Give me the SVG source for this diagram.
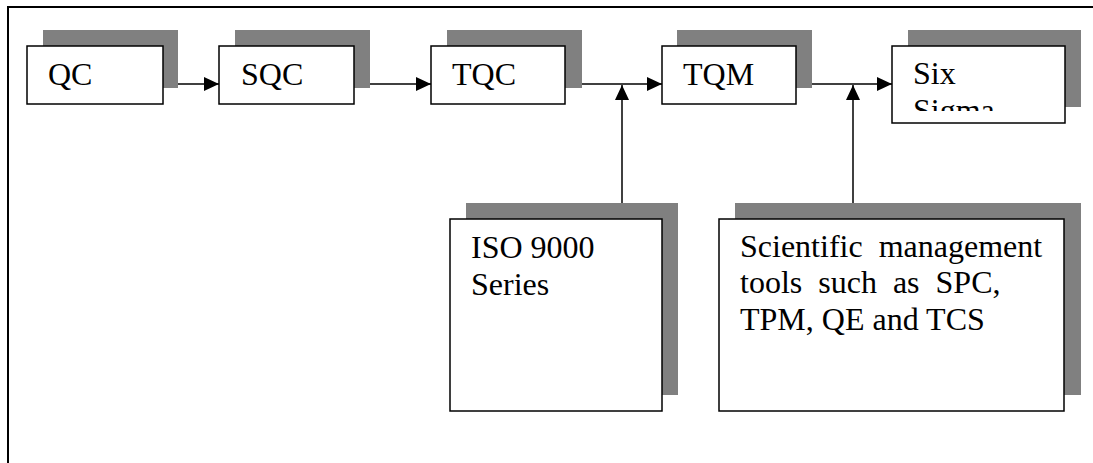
<svg xmlns="http://www.w3.org/2000/svg" width="1093" height="463" viewBox="0 0 1093 463">
  <style>
    .shadow { fill: #808080; }
    .box { fill: #ffffff; stroke: #000000; stroke-width: 1.5; }
    .label { font-family: "Liberation Serif", "Times New Roman", serif; font-size: 32px; fill: #000000; }
    .wire { fill: none; stroke: #000000; stroke-width: 1.5; }
    .frame { fill: none; stroke: #000000; stroke-width: 2; }
  </style>
  <defs>
    <marker id="arrow" markerUnits="userSpaceOnUse" markerWidth="16" markerHeight="14" refX="15" refY="7" orient="auto">
      <path d="M0,0 L15,7 L0,14 z" fill="#000000"/>
    </marker>
    <clipPath id="clip-six">
      <rect x="892" y="46" width="173" height="65"/>
    </clipPath>
  </defs>
  <rect width="1093" height="463" fill="#ffffff"/>

  <!-- outer frame: top and left edges -->
  <path class="frame" d="M8,463 L8,7 L1093,7"/>

  <!-- connectors -->
  <g id="connectors">
    <line class="wire" x1="163" y1="84" x2="219" y2="84" marker-end="url(#arrow)"/>
    <line class="wire" x1="354" y1="84" x2="431" y2="84" marker-end="url(#arrow)"/>
    <line class="wire" x1="565" y1="84" x2="662" y2="84" marker-end="url(#arrow)"/>
    <line class="wire" x1="796" y1="84" x2="892" y2="84" marker-end="url(#arrow)"/>
    <line class="wire" x1="622" y1="219" x2="622" y2="85" marker-end="url(#arrow)"/>
    <line class="wire" x1="853" y1="219" x2="853" y2="85" marker-end="url(#arrow)"/>
  </g>

  <g id="node-qc">
    <rect class="shadow" x="43" y="30" width="135" height="58"/>
    <rect class="box" x="27" y="46" width="136" height="58"/>
    <text class="label" x="48" y="85">QC</text>
  </g>

  <g id="node-sqc">
    <rect class="shadow" x="235" y="30" width="135" height="58"/>
    <rect class="box" x="219" y="46" width="135" height="58"/>
    <text class="label" x="241" y="85">SQC</text>
  </g>

  <g id="node-tqc">
    <rect class="shadow" x="447" y="30" width="135" height="58"/>
    <rect class="box" x="431" y="46" width="134" height="58"/>
    <text class="label" x="452" y="85">TQC</text>
  </g>

  <g id="node-tqm">
    <rect class="shadow" x="677" y="30" width="135" height="58"/>
    <rect class="box" x="662" y="46" width="134" height="58"/>
    <text class="label" x="683" y="85">TQM</text>
  </g>

  <g id="node-six-sigma">
    <rect class="shadow" x="908" y="30" width="173" height="77"/>
    <rect class="box" x="892" y="46" width="173" height="77"/>
    <g clip-path="url(#clip-six)">
      <text class="label" x="913" y="84">Six</text>
      <text class="label" x="913" y="121">Sigma</text>
    </g>
  </g>

  <g id="node-iso">
    <rect class="shadow" x="466" y="203" width="212" height="192"/>
    <rect class="box" x="450" y="219" width="212" height="192"/>
    <text class="label" x="471" y="258">ISO 9000</text>
    <text class="label" x="471" y="295">Series</text>
  </g>

  <g id="node-tools">
    <rect class="shadow" x="735" y="203" width="346" height="192"/>
    <rect class="box" x="719" y="219" width="345" height="192"/>
    <text class="label" x="740" y="257" word-spacing="8">Scientific management</text>
    <text class="label" x="740" y="293" word-spacing="8">tools such as SPC,</text>
    <text class="label" x="740" y="330">TPM, QE and TCS</text>
  </g>
</svg>
